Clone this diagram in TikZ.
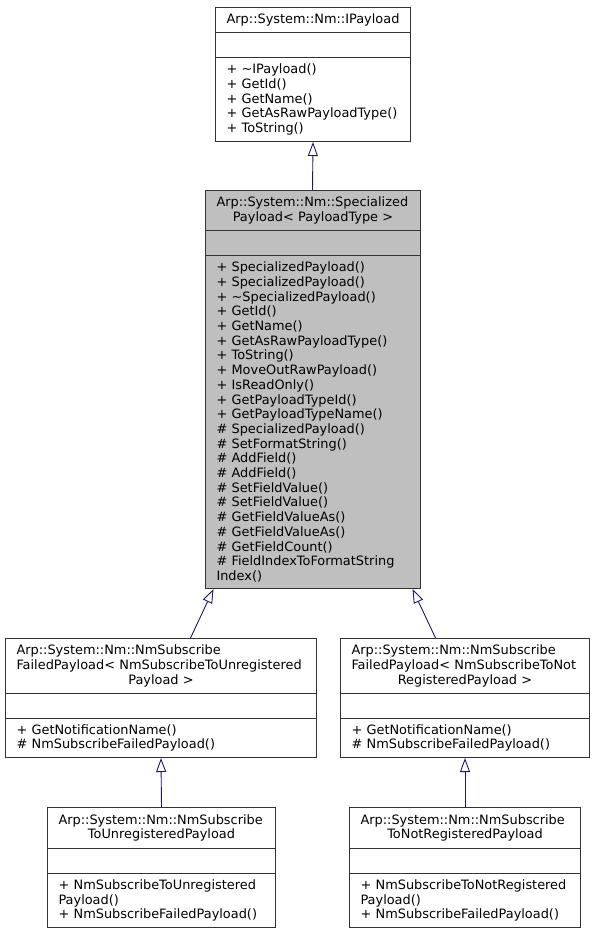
\documentclass[tikz,border=0pt]{standalone}
\usepackage{fontspec}
\setmainfont{DejaVu Sans}
\usetikzlibrary{arrows.meta,calc}
\definecolor{edgecol}{HTML}{191970}
\definecolor{bordcol}{HTML}{333333}
\definecolor{curfill}{HTML}{BFBFBF}
\hbadness=10000
\hfuzz=50pt
\begin{document}
\begin{tikzpicture}[x=1pt,y=-1pt,
  comp/.style={draw=bordcol, line width=1pt, rectangle, anchor=north west,
    inner xsep=0pt, inner ysep=0pt, fill=white,
    font=\fontsize{12.9}{14.7}\selectfont},
  cur/.style={fill=curfill},
  inh/.style={draw=edgecol, line width=0.9pt,
    -{Triangle[open,length=14pt,width=10pt]}}]
\useasboundingbox (0,0) rectangle (595,933);

% IPayload
\node[comp, minimum width=195pt, minimum height=25pt, text width=173pt, align=center] (ipT) at (215,7) {Arp::System::Nm::IPayload};
\node[comp, minimum width=195pt, minimum height=25pt] (ipA) at (215,32) {};
\node[comp, minimum width=195pt, minimum height=84pt, text width=173pt, align=left] (ipM) at (215,57)
  {+ \textasciitilde IPayload()\\+ GetId()\\+ GetName()\\+ GetAsRawPayloadType()\\+ ToString()};

% SpecializedPayload
\node[comp, cur, minimum width=215pt, minimum height=40pt, text width=193pt, align=left] (spT) at (205,190)
  {Arp::System::Nm::Specialized\\\makebox[\linewidth]{Payload< PayloadType >}};
\node[comp, cur, minimum width=215pt, minimum height=25pt] (spA) at (205,230) {};
\node[comp, cur, minimum width=215pt, minimum height=333pt, text width=193pt, align=left] (spM) at (205,255)
  {+ SpecializedPayload()\\+ SpecializedPayload()\\+ \textasciitilde SpecializedPayload()\\+ GetId()\\+ GetName()\\+ GetAsRawPayloadType()\\+ ToString()\\+ MoveOutRawPayload()\\+ IsReadOnly()\\+ GetPayloadTypeId()\\+ GetPayloadTypeName()\\\# SpecializedPayload()\\\# SetFormatString()\\\# AddField()\\\# AddField()\\\# SetFieldValue()\\\# SetFieldValue()\\\# GetFieldValueAs()\\\# GetFieldValueAs()\\\# GetFieldCount()\\\# FieldIndexToFormatString\\Index()};

% NmSubscribeFailedPayload< NmSubscribeToUnregisteredPayload >
\node[comp, minimum width=311pt, minimum height=55pt, text width=289pt, align=left] (mlT) at (5,638)
  {Arp::System::Nm::NmSubscribe\\FailedPayload< NmSubscribeToUnregistered\\\makebox[\linewidth]{Payload >}};
\node[comp, minimum width=311pt, minimum height=25pt] (mlA) at (5,693) {};
\node[comp, minimum width=311pt, minimum height=39pt, text width=289pt, align=left] (mlM) at (5,718)
  {+ GetNotificationName()\\\# NmSubscribeFailedPayload()};

% NmSubscribeFailedPayload< NmSubscribeToNotRegisteredPayload >
\node[comp, minimum width=249pt, minimum height=55pt, text width=227pt, align=left] (mrT) at (340,638)
  {Arp::System::Nm::NmSubscribe\\FailedPayload< NmSubscribeToNot\\\makebox[\linewidth]{RegisteredPayload >}};
\node[comp, minimum width=249pt, minimum height=25pt] (mrA) at (340,693) {};
\node[comp, minimum width=249pt, minimum height=39pt, text width=227pt, align=left] (mrM) at (340,718)
  {+ GetNotificationName()\\\# NmSubscribeFailedPayload()};

% NmSubscribeToUnregisteredPayload
\node[comp, minimum width=228pt, minimum height=41pt, text width=206pt, align=left] (blT) at (47,807)
  {Arp::System::Nm::NmSubscribe\\\makebox[\linewidth]{ToUnregisteredPayload}};
\node[comp, minimum width=228pt, minimum height=25pt] (blA) at (47,848) {};
\node[comp, minimum width=228pt, minimum height=54pt, text width=206pt, align=left] (blM) at (47,873)
  {+ NmSubscribeToUnregistered\\Payload()\\+ NmSubscribeFailedPayload()};

% NmSubscribeToNotRegisteredPayload
\node[comp, minimum width=231pt, minimum height=41pt, text width=209pt, align=left] (brT) at (349,807)
  {Arp::System::Nm::NmSubscribe\\\makebox[\linewidth]{ToNotRegisteredPayload}};
\node[comp, minimum width=231pt, minimum height=25pt] (brA) at (349,848) {};
\node[comp, minimum width=231pt, minimum height=54pt, text width=209pt, align=left] (brM) at (349,873)
  {+ NmSubscribeToNotRegistered\\Payload()\\+ NmSubscribeFailedPayload()};

% inheritance connectors
\draw[inh] ([xshift=-0.5pt]spT.north) -- (ipM.south);
\draw[inh] ([xshift=29.5pt]mlT.north) -- ([xshift=-99.5pt]spM.south);
\draw[inh] ([xshift=-29.5pt]mrT.north) -- ([xshift=99.5pt]spM.south);
\draw[inh] (blT.north) -- (mlM.south);
\draw[inh] (brT.north) -- (mrM.south);
\end{tikzpicture}
\end{document}
